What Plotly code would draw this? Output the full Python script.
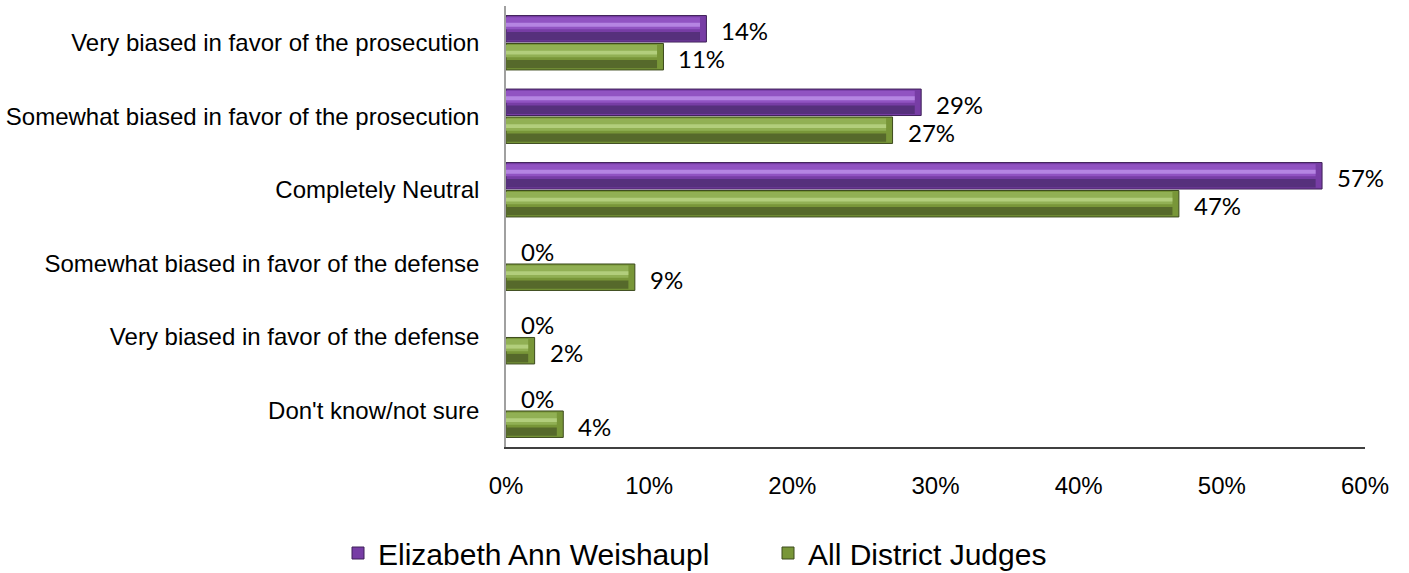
import plotly.graph_objects as go

categories = [
    "Very biased in favor of the prosecution",
    "Somewhat biased in favor of the prosecution",
    "Completely Neutral",
    "Somewhat biased in favor of the defense",
    "Very biased in favor of the defense",
    "Don't know/not sure",
]
weishaupl = [14, 29, 57, 0, 0, 0]
all_judges = [11, 27, 47, 9, 2, 4]
series_names = ["Elizabeth Ann Weishaupl", "All District Judges"]
x_ticks = [0, 10, 20, 30, 40, 50, 60]

styles = [
    dict(main="#773DA5", top="#9153C2", stripe="#B585E2", dark="#56307C", edge="#3E2158", off=-0.37),
    dict(main="#789638", top="#91B054", stripe="#B2CE7C", dark="#56692B", edge="#3C4A1D", off=0.01),
]
W = 0.36

fig = go.Figure()
for name, vals, st in zip(series_names, [weishaupl, all_judges], styles):
    lw = [1 if v > 0 else 0 for v in vals]
    fig.add_trace(go.Bar(
        name=name, y=categories, x=vals, orientation="h",
        width=W, offset=st["off"],
        marker=dict(color=st["main"], line=dict(color=st["edge"], width=lw)),
        showlegend=True,
    ))
    inner = [max(v - 0.45, 0) for v in vals]
    for frac0, frac1, col in [(0.06, 0.52, st["top"]), (0.27, 0.42, st["stripe"]), (0.62, 0.94, st["dark"])]:
        fig.add_trace(go.Bar(
            y=categories, x=inner, orientation="h",
            width=W * (frac1 - frac0), offset=st["off"] + W * frac0,
            marker=dict(color=col, line=dict(width=0)),
            showlegend=False, hoverinfo="skip",
        ))

annotations = []
for vals, st in zip([weishaupl, all_judges], styles):
    for i, v in enumerate(vals):
        annotations.append(dict(
            x=v, y=i + st["off"] + W / 2, xref="x", yref="y",
            text=f"{v}%", showarrow=False, xanchor="left", yanchor="middle",
            xshift=13, yshift=-2,
            font=dict(family="Lato, Carlito, Calibri, sans-serif", size=24, color="#000000"),
        ))

fig.update_layout(
    width=1409, height=573,
    barmode="overlay",
    paper_bgcolor="white", plot_bgcolor="white",
    margin=dict(l=506, r=44, t=6, b=126, autoexpand=False),
    annotations=annotations,
    legend=dict(
        orientation="h", xref="container", yref="container",
        x=338 / 1409, xanchor="left", y=1 - 553 / 573, yanchor="middle",
        font=dict(family="Arial, Liberation Sans, sans-serif", size=30, color="#000000"),
        itemwidth=30, entrywidth=385,
    ),
    font=dict(family="Arial, Liberation Sans, sans-serif", color="#000000"),
)
fig.update_xaxes(
    range=[0, 60], tickvals=x_ticks, ticktext=[f"{t}%" for t in x_ticks],
    showgrid=False, zeroline=False, showline=True, linecolor="#404040", linewidth=1.5,
    tickfont=dict(family="Arial, Liberation Sans, sans-serif", size=24, color="#000000"),
    ticks="", ticklabelstandoff=16, automargin=False,
)
fig.update_yaxes(
    autorange="reversed", showgrid=False, zeroline=False,
    showline=True, linecolor="#A0A0A0", linewidth=1.5,
    tickfont=dict(family="Arial, Liberation Sans, sans-serif", size=24, color="#000000"),
    ticks="", ticklabelstandoff=20, automargin=False,
)

fig.write_html(
    "out.html",
    config={"displayModeBar": False},
    post_script="document.body.style.margin='0';document.body.style.overflow='hidden';",
)
